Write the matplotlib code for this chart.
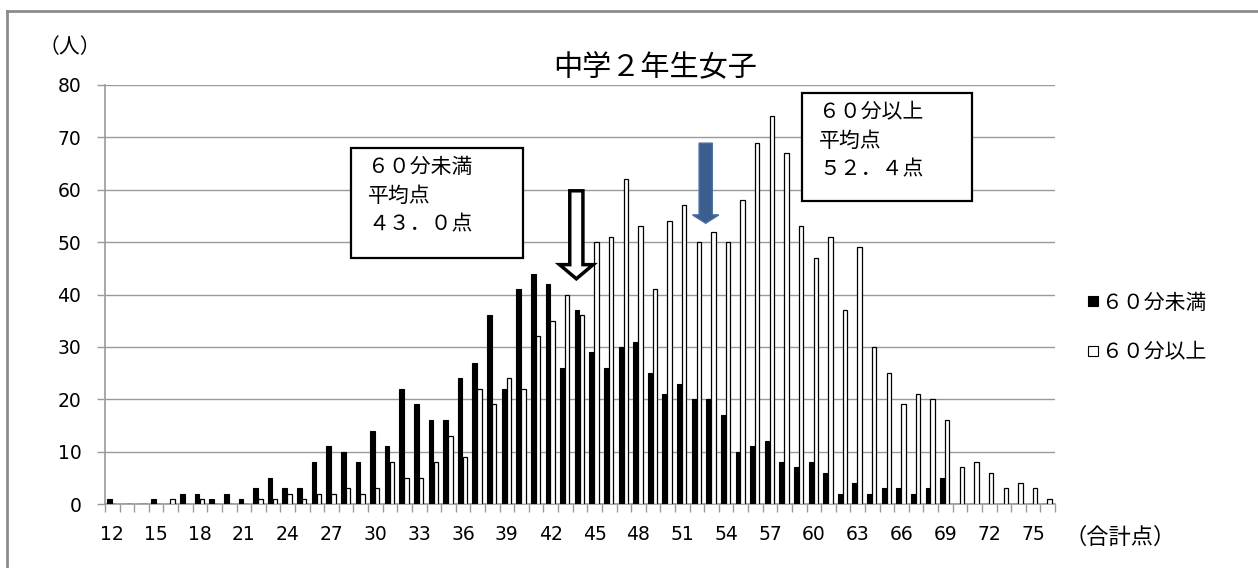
import matplotlib
matplotlib.use("Agg")
import matplotlib.pyplot as plt
from matplotlib.patches import Rectangle, FancyArrow
from matplotlib.lines import Line2D
import numpy as np

plt.rcParams['font.family'] = ['Noto Sans CJK JP', 'DejaVu Sans']

# 合計点 12..76
scores = list(range(12, 77))
under60 = [1, 0, 0, 1, 0, 2, 2, 1, 2, 1, 3, 5, 3, 3, 8, 11, 10, 8, 14, 11,
           22, 19, 16, 16, 24, 27, 36, 22, 41, 44, 42, 26, 37, 29, 26, 30, 31, 25, 21, 23,
           20, 20, 17, 10, 11, 12, 8, 7, 8, 6, 2, 4, 2, 3, 3, 2, 3, 5, 0, 0,
           0, 0, 0, 0, 0]
over60 = [0, 0, 0, 0, 1, 0, 1, 0, 0, 0, 1, 1, 2, 1, 2, 2, 3, 2, 3, 8,
          5, 5, 8, 13, 9, 22, 19, 24, 22, 32, 35, 40, 36, 50, 51, 62, 53, 41, 54, 57,
          50, 52, 50, 58, 69, 74, 67, 53, 47, 51, 37, 49, 30, 25, 19, 21, 20, 16, 7, 8,
          6, 3, 4, 3, 1]
tick_labels = [str(s) for s in scores[::3]]
series_names = ['６０分未満', '６０分以上']
mean_under, mean_over = 43.0, 52.4

W, H = 1258, 568
fig = plt.figure(figsize=(W / 100, H / 100), dpi=100)
ax = fig.add_axes([105 / W, 1 - 504 / H, (1055 - 105) / W, (504 - 85) / H])

x = np.arange(len(scores))
ax.bar(x - 0.2, under60, width=0.32, color='black', edgecolor='black', lw=0.8, zorder=3)
ax.bar(x + 0.13, over60, width=0.3, color='white', edgecolor='black', lw=0.9, zorder=3)

ax.set_xlim(-0.5, len(scores) - 0.5)
ax.set_ylim(0, 80)
ax.set_yticks(range(0, 81, 10))
ax.yaxis.grid(True, color='#9a9a9a', lw=1)
ax.set_axisbelow(True)
for s in ['top', 'right']:
    ax.spines[s].set_visible(False)
for s in ['left', 'bottom']:
    ax.spines[s].set_color('#9a9a9a')
    ax.spines[s].set_linewidth(1.2)

ax.set_xticks(x[::3])
ax.set_xticklabels(tick_labels)
ax.set_xticks(np.arange(-0.5, len(scores)), minor=True)
ax.tick_params(axis='x', which='major', length=0, pad=15, labelsize=13.5)
ax.tick_params(axis='x', which='minor', length=6, color='#9a9a9a', width=1)
ax.tick_params(axis='y', length=6, color='#9a9a9a', width=1, pad=11, labelsize=13.5)
for lab in ax.get_xticklabels() + ax.get_yticklabels():
    lab.set_fontfamily('DejaVu Sans')

def px(xp, yp):
    return xp / W, 1 - yp / H

zen = str.maketrans('0123456789.', '０１２３４５６７８９．')

fig.text(*px(70, 47), '（人）', fontsize=15, ha='center', va='center')
fig.text(*px(655, 68), '中学２年生女子', fontsize=21, ha='center', va='center')
fig.text(*px(1120, 537), '（合計点）', fontsize=16, ha='center', va='center')

# annotation boxes
for (x0, y0, x1, y1), name, m in [((351, 148, 523, 258), series_names[0], mean_under),
                                  ((802, 93, 972, 201), series_names[1], mean_over)]:
    fx0, fy1 = px(x0, y0)
    fx1, fy0 = px(x1, y1)
    fig.add_artist(Rectangle((fx0, fy0), fx1 - fx0, fy1 - fy0, transform=fig.transFigure,
                             fc='white', ec='black', lw=1.6, zorder=5))
    txt = name + '\n平均点\n' + ('%.1f' % m).translate(zen) + '点'
    fig.text(*px(x0 + 17, y0 + 8), txt, fontsize=15, ha='left', va='top',
             linespacing=1.4, zorder=6)

# arrows (mean markers)
ax.add_patch(FancyArrow(mean_under - 12 + 0.75, 59.8, 0, -16.8, width=0.9, head_width=2.3,
                        head_length=2.7, length_includes_head=True, fc='white', ec='black',
                        lw=2.5, zorder=6, clip_on=False))
ax.add_patch(FancyArrow(mean_over - 12 + 0.2, 68.9, 0, -15.3, width=0.9, head_width=1.8,
                        head_length=1.6, length_includes_head=True, fc='#3b5e8e', ec='#4a6d9c',
                        lw=1, zorder=6, clip_on=False))

handles = [Line2D([], [], ls='', marker='s', markersize=7.5, mfc='black', mec='black', mew=0.8),
           Line2D([], [], ls='', marker='s', markersize=7.5, mfc='white', mec='black', mew=0.8)]
ax.legend(handles, series_names, loc='upper left', bbox_to_anchor=px(1068, 273),
          bbox_transform=fig.transFigure, frameon=False, fontsize=15,
          handlelength=0.6, handletextpad=0.15, labelspacing=1.3)

# outer frame (only top/left visible)
fig.add_artist(Line2D([7 / W, 7 / W], [0, 1 - 11 / H], transform=fig.transFigure,
                      color='#8c8c8c', lw=2))
fig.add_artist(Line2D([7 / W, 1], [1 - 11 / H, 1 - 11 / H], transform=fig.transFigure,
                      color='#8c8c8c', lw=2))

fig.savefig('out.png', dpi=100)
